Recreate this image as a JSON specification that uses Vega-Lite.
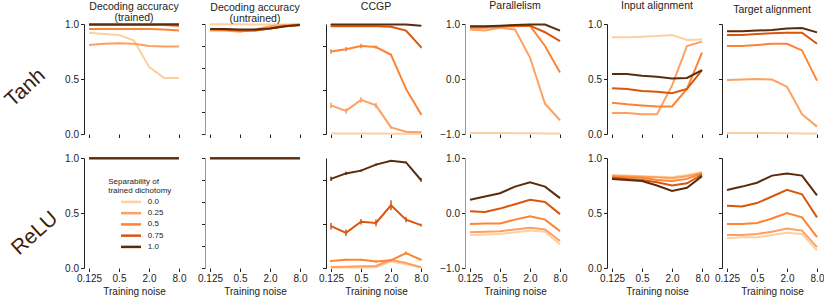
{
"$schema": "https://vega.github.io/schema/vega-lite/v6.json",
"padding": {"left": 0, "top": 0, "right": 0, "bottom": 0},
"background": "white",
"config": {
 "font": "Liberation Sans",
 "view": {"stroke": null},
 "axis": {"grid": false, "domainColor": "#222", "domainWidth": 1, "tickColor": "#222", "tickSize": 3.5, "tickWidth": 1, "labelFontSize": 10, "labelColor": "#222", "titleFontSize": 10, "titleFontWeight": "normal", "titleColor": "#222", "labelPadding": 2, "labelFlush": false},
 "axisX": {"domain": false},
 "title": {"fontSize": 10.5, "fontWeight": "normal", "color": "#222", "lineHeight": 11, "frame": "group"},
 "legend": {"orient": "none", "legendX": 24.2, "legendY": 153.5, "padding": 0, "titleFontSize": 8, "titleFontWeight": "normal", "titleColor": "#222", "titleLineHeight": 9.4, "titleAnchor": "start", "titlePadding": 1, "labelFontSize": 8, "labelColor": "#222", "symbolType": "M1.51,0H5.96", "symbolStrokeWidth": 2.5, "symbolSize": 81, "labelOffset": 27.6, "rowPadding": 0.25}
},
"data": {"values": [
{"act":"Tanh","metric":"dtr","sep":"0.0","noise":0.125,"value":0.92},{"act":"Tanh","metric":"dtr","sep":"0.0","noise":0.25,"value":0.91},{"act":"Tanh","metric":"dtr","sep":"0.0","noise":0.5,"value":0.90},{"act":"Tanh","metric":"dtr","sep":"0.0","noise":1,"value":0.85},{"act":"Tanh","metric":"dtr","sep":"0.0","noise":2,"value":0.61},{"act":"Tanh","metric":"dtr","sep":"0.0","noise":4,"value":0.51},{"act":"Tanh","metric":"dtr","sep":"0.0","noise":8,"value":0.51},
{"act":"Tanh","metric":"dtr","sep":"0.25","noise":0.125,"value":0.81},{"act":"Tanh","metric":"dtr","sep":"0.25","noise":0.25,"value":0.82},{"act":"Tanh","metric":"dtr","sep":"0.25","noise":0.5,"value":0.825},{"act":"Tanh","metric":"dtr","sep":"0.25","noise":1,"value":0.82},{"act":"Tanh","metric":"dtr","sep":"0.25","noise":2,"value":0.80},{"act":"Tanh","metric":"dtr","sep":"0.25","noise":4,"value":0.795},{"act":"Tanh","metric":"dtr","sep":"0.25","noise":8,"value":0.795},
{"act":"Tanh","metric":"dtr","sep":"0.5","noise":0.125,"value":0.955},{"act":"Tanh","metric":"dtr","sep":"0.5","noise":0.25,"value":0.955},{"act":"Tanh","metric":"dtr","sep":"0.5","noise":0.5,"value":0.955},{"act":"Tanh","metric":"dtr","sep":"0.5","noise":1,"value":0.955},{"act":"Tanh","metric":"dtr","sep":"0.5","noise":2,"value":0.955},{"act":"Tanh","metric":"dtr","sep":"0.5","noise":4,"value":0.95},{"act":"Tanh","metric":"dtr","sep":"0.5","noise":8,"value":0.94},
{"act":"Tanh","metric":"dtr","sep":"0.75","noise":0.125,"value":0.99},{"act":"Tanh","metric":"dtr","sep":"0.75","noise":0.25,"value":0.99},{"act":"Tanh","metric":"dtr","sep":"0.75","noise":0.5,"value":0.99},{"act":"Tanh","metric":"dtr","sep":"0.75","noise":1,"value":0.99},{"act":"Tanh","metric":"dtr","sep":"0.75","noise":2,"value":0.99},{"act":"Tanh","metric":"dtr","sep":"0.75","noise":4,"value":0.99},{"act":"Tanh","metric":"dtr","sep":"0.75","noise":8,"value":0.985},
{"act":"Tanh","metric":"dtr","sep":"1.0","noise":0.125,"value":0.997},{"act":"Tanh","metric":"dtr","sep":"1.0","noise":0.25,"value":0.997},{"act":"Tanh","metric":"dtr","sep":"1.0","noise":0.5,"value":0.997},{"act":"Tanh","metric":"dtr","sep":"1.0","noise":1,"value":0.997},{"act":"Tanh","metric":"dtr","sep":"1.0","noise":2,"value":0.997},{"act":"Tanh","metric":"dtr","sep":"1.0","noise":4,"value":0.997},{"act":"Tanh","metric":"dtr","sep":"1.0","noise":8,"value":0.997},

{"act":"Tanh","metric":"dun","sep":"0.0","noise":0.125,"value":0.997},{"act":"Tanh","metric":"dun","sep":"0.0","noise":0.25,"value":0.997},{"act":"Tanh","metric":"dun","sep":"0.0","noise":0.5,"value":0.997},{"act":"Tanh","metric":"dun","sep":"0.0","noise":1,"value":0.995},{"act":"Tanh","metric":"dun","sep":"0.0","noise":2,"value":0.995},{"act":"Tanh","metric":"dun","sep":"0.0","noise":4,"value":0.995},{"act":"Tanh","metric":"dun","sep":"0.0","noise":8,"value":0.995},
{"act":"Tanh","metric":"dun","sep":"0.25","noise":0.125,"value":0.94},{"act":"Tanh","metric":"dun","sep":"0.25","noise":0.25,"value":0.94},{"act":"Tanh","metric":"dun","sep":"0.25","noise":0.5,"value":0.93},{"act":"Tanh","metric":"dun","sep":"0.25","noise":1,"value":0.95},{"act":"Tanh","metric":"dun","sep":"0.25","noise":2,"value":0.98},{"act":"Tanh","metric":"dun","sep":"0.25","noise":4,"value":0.99},{"act":"Tanh","metric":"dun","sep":"0.25","noise":8,"value":0.995},
{"act":"Tanh","metric":"dun","sep":"0.5","noise":0.125,"value":0.95},{"act":"Tanh","metric":"dun","sep":"0.5","noise":0.25,"value":0.945},{"act":"Tanh","metric":"dun","sep":"0.5","noise":0.5,"value":0.94},{"act":"Tanh","metric":"dun","sep":"0.5","noise":1,"value":0.94},{"act":"Tanh","metric":"dun","sep":"0.5","noise":2,"value":0.96},{"act":"Tanh","metric":"dun","sep":"0.5","noise":4,"value":0.98},{"act":"Tanh","metric":"dun","sep":"0.5","noise":8,"value":0.995},
{"act":"Tanh","metric":"dun","sep":"0.75","noise":0.125,"value":0.955},{"act":"Tanh","metric":"dun","sep":"0.75","noise":0.25,"value":0.95},{"act":"Tanh","metric":"dun","sep":"0.75","noise":0.5,"value":0.94},{"act":"Tanh","metric":"dun","sep":"0.75","noise":1,"value":0.94},{"act":"Tanh","metric":"dun","sep":"0.75","noise":2,"value":0.96},{"act":"Tanh","metric":"dun","sep":"0.75","noise":4,"value":0.98},{"act":"Tanh","metric":"dun","sep":"0.75","noise":8,"value":0.99},
{"act":"Tanh","metric":"dun","sep":"1.0","noise":0.125,"value":0.955},{"act":"Tanh","metric":"dun","sep":"1.0","noise":0.25,"value":0.955},{"act":"Tanh","metric":"dun","sep":"1.0","noise":0.5,"value":0.95},{"act":"Tanh","metric":"dun","sep":"1.0","noise":1,"value":0.95},{"act":"Tanh","metric":"dun","sep":"1.0","noise":2,"value":0.96},{"act":"Tanh","metric":"dun","sep":"1.0","noise":4,"value":0.98},{"act":"Tanh","metric":"dun","sep":"1.0","noise":8,"value":0.99},

{"act":"Tanh","metric":"ccgp","sep":"0.0","noise":0.125,"value":0.005,"lo":0.003,"hi":0.007},{"act":"Tanh","metric":"ccgp","sep":"0.0","noise":0.25,"value":0.005,"lo":0.003,"hi":0.007},{"act":"Tanh","metric":"ccgp","sep":"0.0","noise":0.5,"value":0.005,"lo":0.003,"hi":0.007},{"act":"Tanh","metric":"ccgp","sep":"0.0","noise":1,"value":0.005,"lo":0.003,"hi":0.007},{"act":"Tanh","metric":"ccgp","sep":"0.0","noise":2,"value":0.003,"lo":0.001,"hi":0.005},{"act":"Tanh","metric":"ccgp","sep":"0.0","noise":4,"value":0.002,"lo":0.001,"hi":0.004},{"act":"Tanh","metric":"ccgp","sep":"0.0","noise":8,"value":0.002,"lo":0.001,"hi":0.004},
{"act":"Tanh","metric":"ccgp","sep":"0.25","noise":0.125,"value":0.26,"lo":0.235,"hi":0.285},{"act":"Tanh","metric":"ccgp","sep":"0.25","noise":0.25,"value":0.21,"lo":0.185,"hi":0.235},{"act":"Tanh","metric":"ccgp","sep":"0.25","noise":0.5,"value":0.31,"lo":0.285,"hi":0.335},{"act":"Tanh","metric":"ccgp","sep":"0.25","noise":1,"value":0.26,"lo":0.235,"hi":0.285},{"act":"Tanh","metric":"ccgp","sep":"0.25","noise":2,"value":0.06,"lo":0.05,"hi":0.07},{"act":"Tanh","metric":"ccgp","sep":"0.25","noise":4,"value":0.02,"lo":0.015,"hi":0.025},{"act":"Tanh","metric":"ccgp","sep":"0.25","noise":8,"value":0.015,"lo":0.01,"hi":0.02},
{"act":"Tanh","metric":"ccgp","sep":"0.5","noise":0.125,"value":0.75,"lo":0.73,"hi":0.77},{"act":"Tanh","metric":"ccgp","sep":"0.5","noise":0.25,"value":0.77,"lo":0.75,"hi":0.79},{"act":"Tanh","metric":"ccgp","sep":"0.5","noise":0.5,"value":0.80,"lo":0.78,"hi":0.82},{"act":"Tanh","metric":"ccgp","sep":"0.5","noise":1,"value":0.79,"lo":0.775,"hi":0.805},{"act":"Tanh","metric":"ccgp","sep":"0.5","noise":2,"value":0.72,"lo":0.71,"hi":0.73},{"act":"Tanh","metric":"ccgp","sep":"0.5","noise":4,"value":0.41,"lo":0.4,"hi":0.42},{"act":"Tanh","metric":"ccgp","sep":"0.5","noise":8,"value":0.18,"lo":0.17,"hi":0.19},
{"act":"Tanh","metric":"ccgp","sep":"0.75","noise":0.125,"value":0.98,"lo":0.975,"hi":0.985},{"act":"Tanh","metric":"ccgp","sep":"0.75","noise":0.25,"value":0.98,"lo":0.975,"hi":0.985},{"act":"Tanh","metric":"ccgp","sep":"0.75","noise":0.5,"value":0.98,"lo":0.975,"hi":0.985},{"act":"Tanh","metric":"ccgp","sep":"0.75","noise":1,"value":0.98,"lo":0.975,"hi":0.985},{"act":"Tanh","metric":"ccgp","sep":"0.75","noise":2,"value":0.975,"lo":0.97,"hi":0.98},{"act":"Tanh","metric":"ccgp","sep":"0.75","noise":4,"value":0.94,"lo":0.935,"hi":0.945},{"act":"Tanh","metric":"ccgp","sep":"0.75","noise":8,"value":0.79,"lo":0.78,"hi":0.8},
{"act":"Tanh","metric":"ccgp","sep":"1.0","noise":0.125,"value":0.995,"lo":0.992,"hi":0.998},{"act":"Tanh","metric":"ccgp","sep":"1.0","noise":0.25,"value":0.995,"lo":0.992,"hi":0.998},{"act":"Tanh","metric":"ccgp","sep":"1.0","noise":0.5,"value":0.995,"lo":0.992,"hi":0.998},{"act":"Tanh","metric":"ccgp","sep":"1.0","noise":1,"value":0.995,"lo":0.992,"hi":0.998},{"act":"Tanh","metric":"ccgp","sep":"1.0","noise":2,"value":0.995,"lo":0.992,"hi":0.998},{"act":"Tanh","metric":"ccgp","sep":"1.0","noise":4,"value":0.995,"lo":0.992,"hi":0.998},{"act":"Tanh","metric":"ccgp","sep":"1.0","noise":8,"value":0.985,"lo":0.982,"hi":0.988},

{"act":"Tanh","metric":"par","sep":"0.0","noise":0.125,"value":-0.98},{"act":"Tanh","metric":"par","sep":"0.0","noise":0.25,"value":-0.98},{"act":"Tanh","metric":"par","sep":"0.0","noise":0.5,"value":-0.98},{"act":"Tanh","metric":"par","sep":"0.0","noise":1,"value":-0.985},{"act":"Tanh","metric":"par","sep":"0.0","noise":2,"value":-0.985},{"act":"Tanh","metric":"par","sep":"0.0","noise":4,"value":-0.99},{"act":"Tanh","metric":"par","sep":"0.0","noise":8,"value":-0.99},
{"act":"Tanh","metric":"par","sep":"0.25","noise":0.125,"value":0.90},{"act":"Tanh","metric":"par","sep":"0.25","noise":0.25,"value":0.88},{"act":"Tanh","metric":"par","sep":"0.25","noise":0.5,"value":0.93},{"act":"Tanh","metric":"par","sep":"0.25","noise":1,"value":0.90},{"act":"Tanh","metric":"par","sep":"0.25","noise":2,"value":0.39},{"act":"Tanh","metric":"par","sep":"0.25","noise":4,"value":-0.45},{"act":"Tanh","metric":"par","sep":"0.25","noise":8,"value":-0.75},
{"act":"Tanh","metric":"par","sep":"0.5","noise":0.125,"value":0.93},{"act":"Tanh","metric":"par","sep":"0.5","noise":0.25,"value":0.93},{"act":"Tanh","metric":"par","sep":"0.5","noise":0.5,"value":0.95},{"act":"Tanh","metric":"par","sep":"0.5","noise":1,"value":0.96},{"act":"Tanh","metric":"par","sep":"0.5","noise":2,"value":0.97},{"act":"Tanh","metric":"par","sep":"0.5","noise":4,"value":0.60},{"act":"Tanh","metric":"par","sep":"0.5","noise":8,"value":0.12},
{"act":"Tanh","metric":"par","sep":"0.75","noise":0.125,"value":0.95},{"act":"Tanh","metric":"par","sep":"0.75","noise":0.25,"value":0.95},{"act":"Tanh","metric":"par","sep":"0.75","noise":0.5,"value":0.96},{"act":"Tanh","metric":"par","sep":"0.75","noise":1,"value":0.97},{"act":"Tanh","metric":"par","sep":"0.75","noise":2,"value":0.97},{"act":"Tanh","metric":"par","sep":"0.75","noise":4,"value":0.85},{"act":"Tanh","metric":"par","sep":"0.75","noise":8,"value":0.69},
{"act":"Tanh","metric":"par","sep":"1.0","noise":0.125,"value":0.96},{"act":"Tanh","metric":"par","sep":"1.0","noise":0.25,"value":0.96},{"act":"Tanh","metric":"par","sep":"1.0","noise":0.5,"value":0.97},{"act":"Tanh","metric":"par","sep":"1.0","noise":1,"value":0.98},{"act":"Tanh","metric":"par","sep":"1.0","noise":2,"value":0.99},{"act":"Tanh","metric":"par","sep":"1.0","noise":4,"value":0.99},{"act":"Tanh","metric":"par","sep":"1.0","noise":8,"value":0.88},

{"act":"Tanh","metric":"inp","sep":"0.0","noise":0.125,"value":0.88},{"act":"Tanh","metric":"inp","sep":"0.0","noise":0.25,"value":0.88},{"act":"Tanh","metric":"inp","sep":"0.0","noise":0.5,"value":0.885},{"act":"Tanh","metric":"inp","sep":"0.0","noise":1,"value":0.89},{"act":"Tanh","metric":"inp","sep":"0.0","noise":2,"value":0.90},{"act":"Tanh","metric":"inp","sep":"0.0","noise":4,"value":0.855},{"act":"Tanh","metric":"inp","sep":"0.0","noise":8,"value":0.86},
{"act":"Tanh","metric":"inp","sep":"0.25","noise":0.125,"value":0.19},{"act":"Tanh","metric":"inp","sep":"0.25","noise":0.25,"value":0.19},{"act":"Tanh","metric":"inp","sep":"0.25","noise":0.5,"value":0.18},{"act":"Tanh","metric":"inp","sep":"0.25","noise":1,"value":0.18},{"act":"Tanh","metric":"inp","sep":"0.25","noise":2,"value":0.44},{"act":"Tanh","metric":"inp","sep":"0.25","noise":4,"value":0.80},{"act":"Tanh","metric":"inp","sep":"0.25","noise":8,"value":0.84},
{"act":"Tanh","metric":"inp","sep":"0.5","noise":0.125,"value":0.285},{"act":"Tanh","metric":"inp","sep":"0.5","noise":0.25,"value":0.27},{"act":"Tanh","metric":"inp","sep":"0.5","noise":0.5,"value":0.26},{"act":"Tanh","metric":"inp","sep":"0.5","noise":1,"value":0.25},{"act":"Tanh","metric":"inp","sep":"0.5","noise":2,"value":0.25},{"act":"Tanh","metric":"inp","sep":"0.5","noise":4,"value":0.41},{"act":"Tanh","metric":"inp","sep":"0.5","noise":8,"value":0.74},
{"act":"Tanh","metric":"inp","sep":"0.75","noise":0.125,"value":0.415},{"act":"Tanh","metric":"inp","sep":"0.75","noise":0.25,"value":0.41},{"act":"Tanh","metric":"inp","sep":"0.75","noise":0.5,"value":0.39},{"act":"Tanh","metric":"inp","sep":"0.75","noise":1,"value":0.385},{"act":"Tanh","metric":"inp","sep":"0.75","noise":2,"value":0.37},{"act":"Tanh","metric":"inp","sep":"0.75","noise":4,"value":0.41},{"act":"Tanh","metric":"inp","sep":"0.75","noise":8,"value":0.58},
{"act":"Tanh","metric":"inp","sep":"1.0","noise":0.125,"value":0.545},{"act":"Tanh","metric":"inp","sep":"1.0","noise":0.25,"value":0.545},{"act":"Tanh","metric":"inp","sep":"1.0","noise":0.5,"value":0.53},{"act":"Tanh","metric":"inp","sep":"1.0","noise":1,"value":0.52},{"act":"Tanh","metric":"inp","sep":"1.0","noise":2,"value":0.505},{"act":"Tanh","metric":"inp","sep":"1.0","noise":4,"value":0.51},{"act":"Tanh","metric":"inp","sep":"1.0","noise":8,"value":0.58},

{"act":"Tanh","metric":"tgt","sep":"0.0","noise":0.125,"value":0.01},{"act":"Tanh","metric":"tgt","sep":"0.0","noise":0.25,"value":0.01},{"act":"Tanh","metric":"tgt","sep":"0.0","noise":0.5,"value":0.01},{"act":"Tanh","metric":"tgt","sep":"0.0","noise":1,"value":0.008},{"act":"Tanh","metric":"tgt","sep":"0.0","noise":2,"value":0.006},{"act":"Tanh","metric":"tgt","sep":"0.0","noise":4,"value":0.005},{"act":"Tanh","metric":"tgt","sep":"0.0","noise":8,"value":0.005},
{"act":"Tanh","metric":"tgt","sep":"0.25","noise":0.125,"value":0.49},{"act":"Tanh","metric":"tgt","sep":"0.25","noise":0.25,"value":0.495},{"act":"Tanh","metric":"tgt","sep":"0.25","noise":0.5,"value":0.50},{"act":"Tanh","metric":"tgt","sep":"0.25","noise":1,"value":0.495},{"act":"Tanh","metric":"tgt","sep":"0.25","noise":2,"value":0.43},{"act":"Tanh","metric":"tgt","sep":"0.25","noise":4,"value":0.18},{"act":"Tanh","metric":"tgt","sep":"0.25","noise":8,"value":0.067},
{"act":"Tanh","metric":"tgt","sep":"0.5","noise":0.125,"value":0.80},{"act":"Tanh","metric":"tgt","sep":"0.5","noise":0.25,"value":0.80},{"act":"Tanh","metric":"tgt","sep":"0.5","noise":0.5,"value":0.81},{"act":"Tanh","metric":"tgt","sep":"0.5","noise":1,"value":0.82},{"act":"Tanh","metric":"tgt","sep":"0.5","noise":2,"value":0.82},{"act":"Tanh","metric":"tgt","sep":"0.5","noise":4,"value":0.76},{"act":"Tanh","metric":"tgt","sep":"0.5","noise":8,"value":0.485},
{"act":"Tanh","metric":"tgt","sep":"0.75","noise":0.125,"value":0.90},{"act":"Tanh","metric":"tgt","sep":"0.75","noise":0.25,"value":0.90},{"act":"Tanh","metric":"tgt","sep":"0.75","noise":0.5,"value":0.91},{"act":"Tanh","metric":"tgt","sep":"0.75","noise":1,"value":0.915},{"act":"Tanh","metric":"tgt","sep":"0.75","noise":2,"value":0.92},{"act":"Tanh","metric":"tgt","sep":"0.75","noise":4,"value":0.92},{"act":"Tanh","metric":"tgt","sep":"0.75","noise":8,"value":0.82},
{"act":"Tanh","metric":"tgt","sep":"1.0","noise":0.125,"value":0.933},{"act":"Tanh","metric":"tgt","sep":"1.0","noise":0.25,"value":0.933},{"act":"Tanh","metric":"tgt","sep":"1.0","noise":0.5,"value":0.94},{"act":"Tanh","metric":"tgt","sep":"1.0","noise":1,"value":0.945},{"act":"Tanh","metric":"tgt","sep":"1.0","noise":2,"value":0.96},{"act":"Tanh","metric":"tgt","sep":"1.0","noise":4,"value":0.964},{"act":"Tanh","metric":"tgt","sep":"1.0","noise":8,"value":0.924},

{"act":"ReLU","metric":"dtr","sep":"0.0","noise":0.125,"value":0.998},{"act":"ReLU","metric":"dtr","sep":"0.0","noise":0.25,"value":0.998},{"act":"ReLU","metric":"dtr","sep":"0.0","noise":0.5,"value":0.998},{"act":"ReLU","metric":"dtr","sep":"0.0","noise":1,"value":0.998},{"act":"ReLU","metric":"dtr","sep":"0.0","noise":2,"value":0.998},{"act":"ReLU","metric":"dtr","sep":"0.0","noise":4,"value":0.998},{"act":"ReLU","metric":"dtr","sep":"0.0","noise":8,"value":0.998},
{"act":"ReLU","metric":"dtr","sep":"0.25","noise":0.125,"value":0.998},{"act":"ReLU","metric":"dtr","sep":"0.25","noise":0.25,"value":0.998},{"act":"ReLU","metric":"dtr","sep":"0.25","noise":0.5,"value":0.998},{"act":"ReLU","metric":"dtr","sep":"0.25","noise":1,"value":0.998},{"act":"ReLU","metric":"dtr","sep":"0.25","noise":2,"value":0.998},{"act":"ReLU","metric":"dtr","sep":"0.25","noise":4,"value":0.998},{"act":"ReLU","metric":"dtr","sep":"0.25","noise":8,"value":0.998},
{"act":"ReLU","metric":"dtr","sep":"0.5","noise":0.125,"value":0.998},{"act":"ReLU","metric":"dtr","sep":"0.5","noise":0.25,"value":0.998},{"act":"ReLU","metric":"dtr","sep":"0.5","noise":0.5,"value":0.998},{"act":"ReLU","metric":"dtr","sep":"0.5","noise":1,"value":0.998},{"act":"ReLU","metric":"dtr","sep":"0.5","noise":2,"value":0.998},{"act":"ReLU","metric":"dtr","sep":"0.5","noise":4,"value":0.998},{"act":"ReLU","metric":"dtr","sep":"0.5","noise":8,"value":0.998},
{"act":"ReLU","metric":"dtr","sep":"0.75","noise":0.125,"value":0.998},{"act":"ReLU","metric":"dtr","sep":"0.75","noise":0.25,"value":0.998},{"act":"ReLU","metric":"dtr","sep":"0.75","noise":0.5,"value":0.998},{"act":"ReLU","metric":"dtr","sep":"0.75","noise":1,"value":0.998},{"act":"ReLU","metric":"dtr","sep":"0.75","noise":2,"value":0.998},{"act":"ReLU","metric":"dtr","sep":"0.75","noise":4,"value":0.998},{"act":"ReLU","metric":"dtr","sep":"0.75","noise":8,"value":0.998},
{"act":"ReLU","metric":"dtr","sep":"1.0","noise":0.125,"value":0.998},{"act":"ReLU","metric":"dtr","sep":"1.0","noise":0.25,"value":0.998},{"act":"ReLU","metric":"dtr","sep":"1.0","noise":0.5,"value":0.998},{"act":"ReLU","metric":"dtr","sep":"1.0","noise":1,"value":0.998},{"act":"ReLU","metric":"dtr","sep":"1.0","noise":2,"value":0.998},{"act":"ReLU","metric":"dtr","sep":"1.0","noise":4,"value":0.998},{"act":"ReLU","metric":"dtr","sep":"1.0","noise":8,"value":0.998},

{"act":"ReLU","metric":"dun","sep":"0.0","noise":0.125,"value":0.998},{"act":"ReLU","metric":"dun","sep":"0.0","noise":0.25,"value":0.998},{"act":"ReLU","metric":"dun","sep":"0.0","noise":0.5,"value":0.998},{"act":"ReLU","metric":"dun","sep":"0.0","noise":1,"value":0.998},{"act":"ReLU","metric":"dun","sep":"0.0","noise":2,"value":0.998},{"act":"ReLU","metric":"dun","sep":"0.0","noise":4,"value":0.998},{"act":"ReLU","metric":"dun","sep":"0.0","noise":8,"value":0.998},
{"act":"ReLU","metric":"dun","sep":"0.25","noise":0.125,"value":0.998},{"act":"ReLU","metric":"dun","sep":"0.25","noise":0.25,"value":0.998},{"act":"ReLU","metric":"dun","sep":"0.25","noise":0.5,"value":0.998},{"act":"ReLU","metric":"dun","sep":"0.25","noise":1,"value":0.998},{"act":"ReLU","metric":"dun","sep":"0.25","noise":2,"value":0.998},{"act":"ReLU","metric":"dun","sep":"0.25","noise":4,"value":0.998},{"act":"ReLU","metric":"dun","sep":"0.25","noise":8,"value":0.998},
{"act":"ReLU","metric":"dun","sep":"0.5","noise":0.125,"value":0.998},{"act":"ReLU","metric":"dun","sep":"0.5","noise":0.25,"value":0.998},{"act":"ReLU","metric":"dun","sep":"0.5","noise":0.5,"value":0.998},{"act":"ReLU","metric":"dun","sep":"0.5","noise":1,"value":0.998},{"act":"ReLU","metric":"dun","sep":"0.5","noise":2,"value":0.998},{"act":"ReLU","metric":"dun","sep":"0.5","noise":4,"value":0.998},{"act":"ReLU","metric":"dun","sep":"0.5","noise":8,"value":0.998},
{"act":"ReLU","metric":"dun","sep":"0.75","noise":0.125,"value":0.998},{"act":"ReLU","metric":"dun","sep":"0.75","noise":0.25,"value":0.998},{"act":"ReLU","metric":"dun","sep":"0.75","noise":0.5,"value":0.998},{"act":"ReLU","metric":"dun","sep":"0.75","noise":1,"value":0.998},{"act":"ReLU","metric":"dun","sep":"0.75","noise":2,"value":0.998},{"act":"ReLU","metric":"dun","sep":"0.75","noise":4,"value":0.998},{"act":"ReLU","metric":"dun","sep":"0.75","noise":8,"value":0.998},
{"act":"ReLU","metric":"dun","sep":"1.0","noise":0.125,"value":0.998},{"act":"ReLU","metric":"dun","sep":"1.0","noise":0.25,"value":0.998},{"act":"ReLU","metric":"dun","sep":"1.0","noise":0.5,"value":0.998},{"act":"ReLU","metric":"dun","sep":"1.0","noise":1,"value":0.998},{"act":"ReLU","metric":"dun","sep":"1.0","noise":2,"value":0.998},{"act":"ReLU","metric":"dun","sep":"1.0","noise":4,"value":0.998},{"act":"ReLU","metric":"dun","sep":"1.0","noise":8,"value":0.998},

{"act":"ReLU","metric":"ccgp","sep":"0.0","noise":0.125,"value":0.003,"lo":0.001,"hi":0.005},{"act":"ReLU","metric":"ccgp","sep":"0.0","noise":0.25,"value":0.004,"lo":0.002,"hi":0.006},{"act":"ReLU","metric":"ccgp","sep":"0.0","noise":0.5,"value":0.005,"lo":0.003,"hi":0.007},{"act":"ReLU","metric":"ccgp","sep":"0.0","noise":1,"value":0.006,"lo":0.004,"hi":0.008},{"act":"ReLU","metric":"ccgp","sep":"0.0","noise":2,"value":0.06,"lo":0.055,"hi":0.065},{"act":"ReLU","metric":"ccgp","sep":"0.0","noise":4,"value":0.035,"lo":0.03,"hi":0.04},{"act":"ReLU","metric":"ccgp","sep":"0.0","noise":8,"value":0.004,"lo":0.002,"hi":0.006},
{"act":"ReLU","metric":"ccgp","sep":"0.25","noise":0.125,"value":0.01,"lo":0.006,"hi":0.014},{"act":"ReLU","metric":"ccgp","sep":"0.25","noise":0.25,"value":0.012,"lo":0.008,"hi":0.016},{"act":"ReLU","metric":"ccgp","sep":"0.25","noise":0.5,"value":0.015,"lo":0.011,"hi":0.019},{"act":"ReLU","metric":"ccgp","sep":"0.25","noise":1,"value":0.018,"lo":0.014,"hi":0.022},{"act":"ReLU","metric":"ccgp","sep":"0.25","noise":2,"value":0.075,"lo":0.068,"hi":0.082},{"act":"ReLU","metric":"ccgp","sep":"0.25","noise":4,"value":0.045,"lo":0.04,"hi":0.05},{"act":"ReLU","metric":"ccgp","sep":"0.25","noise":8,"value":0.008,"lo":0.005,"hi":0.011},
{"act":"ReLU","metric":"ccgp","sep":"0.5","noise":0.125,"value":0.063,"lo":0.053,"hi":0.073},{"act":"ReLU","metric":"ccgp","sep":"0.5","noise":0.25,"value":0.075,"lo":0.065,"hi":0.085},{"act":"ReLU","metric":"ccgp","sep":"0.5","noise":0.5,"value":0.075,"lo":0.065,"hi":0.085},{"act":"ReLU","metric":"ccgp","sep":"0.5","noise":1,"value":0.06,"lo":0.05,"hi":0.07},{"act":"ReLU","metric":"ccgp","sep":"0.5","noise":2,"value":0.07,"lo":0.06,"hi":0.08},{"act":"ReLU","metric":"ccgp","sep":"0.5","noise":4,"value":0.135,"lo":0.12,"hi":0.15},{"act":"ReLU","metric":"ccgp","sep":"0.5","noise":8,"value":0.075,"lo":0.068,"hi":0.082},
{"act":"ReLU","metric":"ccgp","sep":"0.75","noise":0.125,"value":0.38,"lo":0.35,"hi":0.41},{"act":"ReLU","metric":"ccgp","sep":"0.75","noise":0.25,"value":0.32,"lo":0.29,"hi":0.35},{"act":"ReLU","metric":"ccgp","sep":"0.75","noise":0.5,"value":0.42,"lo":0.395,"hi":0.445},{"act":"ReLU","metric":"ccgp","sep":"0.75","noise":1,"value":0.41,"lo":0.38,"hi":0.44},{"act":"ReLU","metric":"ccgp","sep":"0.75","noise":2,"value":0.57,"lo":0.525,"hi":0.615},{"act":"ReLU","metric":"ccgp","sep":"0.75","noise":4,"value":0.44,"lo":0.415,"hi":0.465},{"act":"ReLU","metric":"ccgp","sep":"0.75","noise":8,"value":0.39,"lo":0.378,"hi":0.402},
{"act":"ReLU","metric":"ccgp","sep":"1.0","noise":0.125,"value":0.81,"lo":0.79,"hi":0.83},{"act":"ReLU","metric":"ccgp","sep":"1.0","noise":0.25,"value":0.86,"lo":0.845,"hi":0.875},{"act":"ReLU","metric":"ccgp","sep":"1.0","noise":0.5,"value":0.885,"lo":0.875,"hi":0.895},{"act":"ReLU","metric":"ccgp","sep":"1.0","noise":1,"value":0.94,"lo":0.93,"hi":0.95},{"act":"ReLU","metric":"ccgp","sep":"1.0","noise":2,"value":0.975,"lo":0.97,"hi":0.98},{"act":"ReLU","metric":"ccgp","sep":"1.0","noise":4,"value":0.96,"lo":0.955,"hi":0.965},{"act":"ReLU","metric":"ccgp","sep":"1.0","noise":8,"value":0.80,"lo":0.785,"hi":0.815},

{"act":"ReLU","metric":"par","sep":"0.0","noise":0.125,"value":-0.40},{"act":"ReLU","metric":"par","sep":"0.0","noise":0.25,"value":-0.39},{"act":"ReLU","metric":"par","sep":"0.0","noise":0.5,"value":-0.38},{"act":"ReLU","metric":"par","sep":"0.0","noise":1,"value":-0.35},{"act":"ReLU","metric":"par","sep":"0.0","noise":2,"value":-0.32},{"act":"ReLU","metric":"par","sep":"0.0","noise":4,"value":-0.34},{"act":"ReLU","metric":"par","sep":"0.0","noise":8,"value":-0.57},
{"act":"ReLU","metric":"par","sep":"0.25","noise":0.125,"value":-0.35},{"act":"ReLU","metric":"par","sep":"0.25","noise":0.25,"value":-0.34},{"act":"ReLU","metric":"par","sep":"0.25","noise":0.5,"value":-0.33},{"act":"ReLU","metric":"par","sep":"0.25","noise":1,"value":-0.30},{"act":"ReLU","metric":"par","sep":"0.25","noise":2,"value":-0.27},{"act":"ReLU","metric":"par","sep":"0.25","noise":4,"value":-0.30},{"act":"ReLU","metric":"par","sep":"0.25","noise":8,"value":-0.51},
{"act":"ReLU","metric":"par","sep":"0.5","noise":0.125,"value":-0.20},{"act":"ReLU","metric":"par","sep":"0.5","noise":0.25,"value":-0.19},{"act":"ReLU","metric":"par","sep":"0.5","noise":0.5,"value":-0.19},{"act":"ReLU","metric":"par","sep":"0.5","noise":1,"value":-0.12},{"act":"ReLU","metric":"par","sep":"0.5","noise":2,"value":-0.06},{"act":"ReLU","metric":"par","sep":"0.5","noise":4,"value":-0.12},{"act":"ReLU","metric":"par","sep":"0.5","noise":8,"value":-0.33},
{"act":"ReLU","metric":"par","sep":"0.75","noise":0.125,"value":0.03},{"act":"ReLU","metric":"par","sep":"0.75","noise":0.25,"value":0.02},{"act":"ReLU","metric":"par","sep":"0.75","noise":0.5,"value":0.08},{"act":"ReLU","metric":"par","sep":"0.75","noise":1,"value":0.16},{"act":"ReLU","metric":"par","sep":"0.75","noise":2,"value":0.24},{"act":"ReLU","metric":"par","sep":"0.75","noise":4,"value":0.20},{"act":"ReLU","metric":"par","sep":"0.75","noise":8,"value":-0.02},
{"act":"ReLU","metric":"par","sep":"1.0","noise":0.125,"value":0.24},{"act":"ReLU","metric":"par","sep":"1.0","noise":0.25,"value":0.30},{"act":"ReLU","metric":"par","sep":"1.0","noise":0.5,"value":0.36},{"act":"ReLU","metric":"par","sep":"1.0","noise":1,"value":0.48},{"act":"ReLU","metric":"par","sep":"1.0","noise":2,"value":0.56},{"act":"ReLU","metric":"par","sep":"1.0","noise":4,"value":0.48},{"act":"ReLU","metric":"par","sep":"1.0","noise":8,"value":0.27},

{"act":"ReLU","metric":"inp","sep":"0.0","noise":0.125,"value":0.84},{"act":"ReLU","metric":"inp","sep":"0.0","noise":0.25,"value":0.84},{"act":"ReLU","metric":"inp","sep":"0.0","noise":0.5,"value":0.835},{"act":"ReLU","metric":"inp","sep":"0.0","noise":1,"value":0.83},{"act":"ReLU","metric":"inp","sep":"0.0","noise":2,"value":0.825},{"act":"ReLU","metric":"inp","sep":"0.0","noise":4,"value":0.845},{"act":"ReLU","metric":"inp","sep":"0.0","noise":8,"value":0.87},
{"act":"ReLU","metric":"inp","sep":"0.25","noise":0.125,"value":0.84},{"act":"ReLU","metric":"inp","sep":"0.25","noise":0.25,"value":0.835},{"act":"ReLU","metric":"inp","sep":"0.25","noise":0.5,"value":0.83},{"act":"ReLU","metric":"inp","sep":"0.25","noise":1,"value":0.825},{"act":"ReLU","metric":"inp","sep":"0.25","noise":2,"value":0.815},{"act":"ReLU","metric":"inp","sep":"0.25","noise":4,"value":0.835},{"act":"ReLU","metric":"inp","sep":"0.25","noise":8,"value":0.865},
{"act":"ReLU","metric":"inp","sep":"0.5","noise":0.125,"value":0.83},{"act":"ReLU","metric":"inp","sep":"0.5","noise":0.25,"value":0.825},{"act":"ReLU","metric":"inp","sep":"0.5","noise":0.5,"value":0.82},{"act":"ReLU","metric":"inp","sep":"0.5","noise":1,"value":0.80},{"act":"ReLU","metric":"inp","sep":"0.5","noise":2,"value":0.79},{"act":"ReLU","metric":"inp","sep":"0.5","noise":4,"value":0.81},{"act":"ReLU","metric":"inp","sep":"0.5","noise":8,"value":0.86},
{"act":"ReLU","metric":"inp","sep":"0.75","noise":0.125,"value":0.82},{"act":"ReLU","metric":"inp","sep":"0.75","noise":0.25,"value":0.81},{"act":"ReLU","metric":"inp","sep":"0.75","noise":0.5,"value":0.80},{"act":"ReLU","metric":"inp","sep":"0.75","noise":1,"value":0.78},{"act":"ReLU","metric":"inp","sep":"0.75","noise":2,"value":0.75},{"act":"ReLU","metric":"inp","sep":"0.75","noise":4,"value":0.77},{"act":"ReLU","metric":"inp","sep":"0.75","noise":8,"value":0.85},
{"act":"ReLU","metric":"inp","sep":"1.0","noise":0.125,"value":0.81},{"act":"ReLU","metric":"inp","sep":"1.0","noise":0.25,"value":0.80},{"act":"ReLU","metric":"inp","sep":"1.0","noise":0.5,"value":0.79},{"act":"ReLU","metric":"inp","sep":"1.0","noise":1,"value":0.75},{"act":"ReLU","metric":"inp","sep":"1.0","noise":2,"value":0.70},{"act":"ReLU","metric":"inp","sep":"1.0","noise":4,"value":0.73},{"act":"ReLU","metric":"inp","sep":"1.0","noise":8,"value":0.835},

{"act":"ReLU","metric":"tgt","sep":"0.0","noise":0.125,"value":0.27},{"act":"ReLU","metric":"tgt","sep":"0.0","noise":0.25,"value":0.28},{"act":"ReLU","metric":"tgt","sep":"0.0","noise":0.5,"value":0.28},{"act":"ReLU","metric":"tgt","sep":"0.0","noise":1,"value":0.30},{"act":"ReLU","metric":"tgt","sep":"0.0","noise":2,"value":0.32},{"act":"ReLU","metric":"tgt","sep":"0.0","noise":4,"value":0.31},{"act":"ReLU","metric":"tgt","sep":"0.0","noise":8,"value":0.16},
{"act":"ReLU","metric":"tgt","sep":"0.25","noise":0.125,"value":0.30},{"act":"ReLU","metric":"tgt","sep":"0.25","noise":0.25,"value":0.30},{"act":"ReLU","metric":"tgt","sep":"0.25","noise":0.5,"value":0.31},{"act":"ReLU","metric":"tgt","sep":"0.25","noise":1,"value":0.33},{"act":"ReLU","metric":"tgt","sep":"0.25","noise":2,"value":0.36},{"act":"ReLU","metric":"tgt","sep":"0.25","noise":4,"value":0.34},{"act":"ReLU","metric":"tgt","sep":"0.25","noise":8,"value":0.19},
{"act":"ReLU","metric":"tgt","sep":"0.5","noise":0.125,"value":0.40},{"act":"ReLU","metric":"tgt","sep":"0.5","noise":0.25,"value":0.40},{"act":"ReLU","metric":"tgt","sep":"0.5","noise":0.5,"value":0.41},{"act":"ReLU","metric":"tgt","sep":"0.5","noise":1,"value":0.45},{"act":"ReLU","metric":"tgt","sep":"0.5","noise":2,"value":0.50},{"act":"ReLU","metric":"tgt","sep":"0.5","noise":4,"value":0.46},{"act":"ReLU","metric":"tgt","sep":"0.5","noise":8,"value":0.28},
{"act":"ReLU","metric":"tgt","sep":"0.75","noise":0.125,"value":0.565},{"act":"ReLU","metric":"tgt","sep":"0.75","noise":0.25,"value":0.56},{"act":"ReLU","metric":"tgt","sep":"0.75","noise":0.5,"value":0.59},{"act":"ReLU","metric":"tgt","sep":"0.75","noise":1,"value":0.65},{"act":"ReLU","metric":"tgt","sep":"0.75","noise":2,"value":0.71},{"act":"ReLU","metric":"tgt","sep":"0.75","noise":4,"value":0.67},{"act":"ReLU","metric":"tgt","sep":"0.75","noise":8,"value":0.46},
{"act":"ReLU","metric":"tgt","sep":"1.0","noise":0.125,"value":0.71},{"act":"ReLU","metric":"tgt","sep":"1.0","noise":0.25,"value":0.74},{"act":"ReLU","metric":"tgt","sep":"1.0","noise":0.5,"value":0.775},{"act":"ReLU","metric":"tgt","sep":"1.0","noise":1,"value":0.84},{"act":"ReLU","metric":"tgt","sep":"1.0","noise":2,"value":0.86},{"act":"ReLU","metric":"tgt","sep":"1.0","noise":4,"value":0.84},{"act":"ReLU","metric":"tgt","sep":"1.0","noise":8,"value":0.66}
]},
"columns": 6,
"spacing": {"row": 24, "column": 0},
"bounds": "flush",
"align": "each",
"concat": [
 {"width": 121, "height": 110, "title": {"text": ["Decoding accuracy", "(trained)"], "offset": -4.4, "dx": -10.5},
  "transform": [{"filter": "datum.act == 'Tanh' && datum.metric == 'dtr'"}],
  "mark": {"type": "line", "strokeWidth": 2},
  "encoding": {
   "x": {"field": "noise", "type": "quantitative", "scale": {"type": "log", "base": 2, "domain": [0.0992, 26.6], "nice": false}, "axis": {"values": [0.125, 0.5, 2, 8], "labels": false, "title": null}},
   "y": {"field": "value", "type": "quantitative", "scale": {"domain": [0, 1], "nice": false}, "axis": {"values": [0, 0.5, 1], "format": ".1f", "title": "Tanh", "titleAngle": -42, "titleFontSize": 21, "titleColor": "#3d1e0b", "titleX": -59, "titleY": 63.5, "titleAlign": "center", "titleBaseline": "middle"}},
   "color": {"field": "sep", "type": "ordinal", "scale": {"domain": ["0.0", "0.25", "0.5", "0.75", "1.0"], "range": ["#fdd0a2", "#fda062", "#fd8432", "#d9560d", "#5a2c0e"]}, "legend": {"title": ["Separability of", "trained dichotomy"]}}
  }},
 {"width": 121, "height": 110, "title": {"text": ["Decoding accuracy", "(untrained)"], "offset": -4.4, "dx": -10.5},
  "transform": [{"filter": "datum.act == 'Tanh' && datum.metric == 'dun'"}],
  "mark": {"type": "line", "strokeWidth": 2},
  "encoding": {
   "x": {"field": "noise", "type": "quantitative", "scale": {"type": "log", "base": 2, "domain": [0.0992, 26.6], "nice": false}, "axis": {"values": [0.125, 0.5, 2, 8], "labels": false, "title": null}},
   "y": {"field": "value", "type": "quantitative", "scale": {"domain": [0, 1], "nice": false}, "axis": {"values": [0, 0.2, 0.4, 0.6, 0.8, 1], "labels": false, "title": null, "domainColor": "#999"}},
   "color": {"field": "sep", "type": "ordinal", "scale": {"domain": ["0.0", "0.25", "0.5", "0.75", "1.0"], "range": ["#fdd0a2", "#fda062", "#fd8432", "#d9560d", "#5a2c0e"]}, "legend": {"title": ["Separability of", "trained dichotomy"]}}
  }},
 {"width": 139, "height": 110, "title": {"text": "CCGP", "offset": 7.8, "dx": -19.5},
  "transform": [{"filter": "datum.act == 'Tanh' && datum.metric == 'ccgp'"}],
  "encoding": {
   "x": {"field": "noise", "type": "quantitative", "scale": {"type": "log", "base": 2, "domain": [0.0992, 61.1], "nice": false}, "axis": {"values": [0.125, 0.5, 2, 8], "labels": false, "title": null}},
   "color": {"field": "sep", "type": "ordinal", "scale": {"domain": ["0.0", "0.25", "0.5", "0.75", "1.0"], "range": ["#fdd0a2", "#fda062", "#fd8432", "#d9560d", "#5a2c0e"]}, "legend": {"title": ["Separability of", "trained dichotomy"]}}
  },
  "layer": [
   {"mark": {"type": "line", "strokeWidth": 2}, "encoding": {"y": {"field": "value", "type": "quantitative", "scale": {"domain": [0, 1], "nice": false}, "axis": {"values": [0, 0.2, 0.4, 0.6, 0.8, 1], "labels": false, "title": null}}}},
   {"mark": {"type": "rule", "strokeWidth": 1.5}, "encoding": {"y": {"field": "lo", "type": "quantitative"}, "y2": {"field": "hi"}}}
  ]},
 {"width": 142, "height": 110, "title": {"text": "Parallelism", "offset": 7.8, "dx": -21},
  "transform": [{"filter": "datum.act == 'Tanh' && datum.metric == 'par'"}],
  "mark": {"type": "line", "strokeWidth": 2},
  "encoding": {
   "x": {"field": "noise", "type": "quantitative", "scale": {"type": "log", "base": 2, "domain": [0.0992, 70.2], "nice": false}, "axis": {"values": [0.125, 0.5, 2, 8], "labels": false, "title": null}},
   "y": {"field": "value", "type": "quantitative", "scale": {"domain": [-1, 1], "nice": false}, "axis": {"values": [-1, 0, 1], "format": ".1f", "title": null, "domainColor": "#999"}},
   "color": {"field": "sep", "type": "ordinal", "scale": {"domain": ["0.0", "0.25", "0.5", "0.75", "1.0"], "range": ["#fdd0a2", "#fda062", "#fd8432", "#d9560d", "#5a2c0e"]}, "legend": {"title": ["Separability of", "trained dichotomy"]}}
  }},
 {"width": 115, "height": 110, "title": {"text": "Input alignment", "offset": 7.8, "dx": -7.5},
  "transform": [{"filter": "datum.act == 'Tanh' && datum.metric == 'inp'"}],
  "mark": {"type": "line", "strokeWidth": 2},
  "encoding": {
   "x": {"field": "noise", "type": "quantitative", "scale": {"type": "log", "base": 2, "domain": [0.0992, 20.16], "nice": false}, "axis": {"values": [0.125, 0.5, 2, 8], "labels": false, "title": null}},
   "y": {"field": "value", "type": "quantitative", "scale": {"domain": [0, 1], "nice": false}, "axis": {"values": [0, 0.5, 1], "format": ".1f", "title": null}},
   "color": {"field": "sep", "type": "ordinal", "scale": {"domain": ["0.0", "0.25", "0.5", "0.75", "1.0"], "range": ["#fdd0a2", "#fda062", "#fd8432", "#d9560d", "#5a2c0e"]}, "legend": {"title": ["Separability of", "trained dichotomy"]}}
  }},
 {"width": 100, "height": 110, "title": {"text": "Target alignment", "offset": 7.8, "dx": 0},
  "transform": [{"filter": "datum.act == 'Tanh' && datum.metric == 'tgt'"}],
  "mark": {"type": "line", "strokeWidth": 2},
  "encoding": {
   "x": {"field": "noise", "type": "quantitative", "scale": {"type": "log", "base": 2, "domain": [0.0992, 10.08], "nice": false}, "axis": {"values": [0.125, 0.5, 2, 8], "labels": false, "title": null}},
   "y": {"field": "value", "type": "quantitative", "scale": {"domain": [0, 1], "nice": false}, "axis": {"values": [0, 0.5, 1], "labels": false, "title": null}},
   "color": {"field": "sep", "type": "ordinal", "scale": {"domain": ["0.0", "0.25", "0.5", "0.75", "1.0"], "range": ["#fdd0a2", "#fda062", "#fd8432", "#d9560d", "#5a2c0e"]}, "legend": {"title": ["Separability of", "trained dichotomy"]}}
  }},
 {"width": 121, "height": 110,
  "transform": [{"filter": "datum.act == 'ReLU' && datum.metric == 'dtr'"}],
  "mark": {"type": "line", "strokeWidth": 2},
  "encoding": {
   "x": {"field": "noise", "type": "quantitative", "scale": {"type": "log", "base": 2, "domain": [0.0992, 26.6], "nice": false}, "axis": {"values": [0.125, 0.5, 2, 8], "labelExpr": "datum.value == 0.125 ? '0.125' : format(datum.value, '.1f')", "title": "Training noise", "titlePadding": 3, "titleAnchor": "start", "titleX": 50, "titleAlign": "center"}},
   "y": {"field": "value", "type": "quantitative", "scale": {"domain": [0, 1], "nice": false}, "axis": {"values": [0, 0.5, 1], "format": ".1f", "title": "ReLU", "titleAngle": -42, "titleFontSize": 21, "titleColor": "#3d1e0b", "titleX": -49.5, "titleY": 75, "titleAlign": "center", "titleBaseline": "middle"}},
   "color": {"field": "sep", "type": "ordinal", "scale": {"domain": ["0.0", "0.25", "0.5", "0.75", "1.0"], "range": ["#fdd0a2", "#fda062", "#fd8432", "#d9560d", "#5a2c0e"]}, "legend": {"title": ["Separability of", "trained dichotomy"]}}
  }},
 {"width": 121, "height": 110,
  "transform": [{"filter": "datum.act == 'ReLU' && datum.metric == 'dun'"}],
  "mark": {"type": "line", "strokeWidth": 2},
  "encoding": {
   "x": {"field": "noise", "type": "quantitative", "scale": {"type": "log", "base": 2, "domain": [0.0992, 26.6], "nice": false}, "axis": {"values": [0.125, 0.5, 2, 8], "labelExpr": "datum.value == 0.125 ? '0.125' : format(datum.value, '.1f')", "title": "Training noise", "titlePadding": 3, "titleAnchor": "start", "titleX": 50, "titleAlign": "center"}},
   "y": {"field": "value", "type": "quantitative", "scale": {"domain": [0, 1], "nice": false}, "axis": {"values": [0, 0.2, 0.4, 0.6, 0.8, 1], "labels": false, "title": null, "domainColor": "#999"}},
   "color": {"field": "sep", "type": "ordinal", "scale": {"domain": ["0.0", "0.25", "0.5", "0.75", "1.0"], "range": ["#fdd0a2", "#fda062", "#fd8432", "#d9560d", "#5a2c0e"]}, "legend": {"title": ["Separability of", "trained dichotomy"]}}
  }},
 {"width": 139, "height": 110,
  "transform": [{"filter": "datum.act == 'ReLU' && datum.metric == 'ccgp'"}],
  "encoding": {
   "x": {"field": "noise", "type": "quantitative", "scale": {"type": "log", "base": 2, "domain": [0.0992, 61.1], "nice": false}, "axis": {"values": [0.125, 0.5, 2, 8], "labelExpr": "datum.value == 0.125 ? '0.125' : format(datum.value, '.1f')", "title": "Training noise", "titlePadding": 3, "titleAnchor": "start", "titleX": 50, "titleAlign": "center"}},
   "color": {"field": "sep", "type": "ordinal", "scale": {"domain": ["0.0", "0.25", "0.5", "0.75", "1.0"], "range": ["#fdd0a2", "#fda062", "#fd8432", "#d9560d", "#5a2c0e"]}, "legend": {"title": ["Separability of", "trained dichotomy"]}}
  },
  "layer": [
   {"mark": {"type": "line", "strokeWidth": 2}, "encoding": {"y": {"field": "value", "type": "quantitative", "scale": {"domain": [0, 1], "nice": false}, "axis": {"values": [0, 0.2, 0.4, 0.6, 0.8, 1], "labels": false, "title": null}}}},
   {"mark": {"type": "rule", "strokeWidth": 1.5}, "encoding": {"y": {"field": "lo", "type": "quantitative"}, "y2": {"field": "hi"}}}
  ]},
 {"width": 142, "height": 110,
  "transform": [{"filter": "datum.act == 'ReLU' && datum.metric == 'par'"}],
  "mark": {"type": "line", "strokeWidth": 2},
  "encoding": {
   "x": {"field": "noise", "type": "quantitative", "scale": {"type": "log", "base": 2, "domain": [0.0992, 70.2], "nice": false}, "axis": {"values": [0.125, 0.5, 2, 8], "labelExpr": "datum.value == 0.125 ? '0.125' : format(datum.value, '.1f')", "title": "Training noise", "titlePadding": 3, "titleAnchor": "start", "titleX": 50, "titleAlign": "center"}},
   "y": {"field": "value", "type": "quantitative", "scale": {"domain": [-1, 1], "nice": false}, "axis": {"values": [-1, 0, 1], "format": ".1f", "title": null, "domainColor": "#999"}},
   "color": {"field": "sep", "type": "ordinal", "scale": {"domain": ["0.0", "0.25", "0.5", "0.75", "1.0"], "range": ["#fdd0a2", "#fda062", "#fd8432", "#d9560d", "#5a2c0e"]}, "legend": {"title": ["Separability of", "trained dichotomy"]}}
  }},
 {"width": 115, "height": 110,
  "transform": [{"filter": "datum.act == 'ReLU' && datum.metric == 'inp'"}],
  "mark": {"type": "line", "strokeWidth": 2},
  "encoding": {
   "x": {"field": "noise", "type": "quantitative", "scale": {"type": "log", "base": 2, "domain": [0.0992, 20.16], "nice": false}, "axis": {"values": [0.125, 0.5, 2, 8], "labelExpr": "datum.value == 0.125 ? '0.125' : format(datum.value, '.1f')", "title": "Training noise", "titlePadding": 3, "titleAnchor": "start", "titleX": 50, "titleAlign": "center"}},
   "y": {"field": "value", "type": "quantitative", "scale": {"domain": [0, 1], "nice": false}, "axis": {"values": [0, 0.5, 1], "format": ".1f", "title": null}},
   "color": {"field": "sep", "type": "ordinal", "scale": {"domain": ["0.0", "0.25", "0.5", "0.75", "1.0"], "range": ["#fdd0a2", "#fda062", "#fd8432", "#d9560d", "#5a2c0e"]}, "legend": {"title": ["Separability of", "trained dichotomy"]}}
  }},
 {"width": 100, "height": 110,
  "transform": [{"filter": "datum.act == 'ReLU' && datum.metric == 'tgt'"}],
  "mark": {"type": "line", "strokeWidth": 2},
  "encoding": {
   "x": {"field": "noise", "type": "quantitative", "scale": {"type": "log", "base": 2, "domain": [0.0992, 10.08], "nice": false}, "axis": {"values": [0.125, 0.5, 2, 8], "labelExpr": "datum.value == 0.125 ? '0.125' : format(datum.value, '.1f')", "title": "Training noise", "titlePadding": 3, "titleAnchor": "start", "titleX": 50, "titleAlign": "center"}},
   "y": {"field": "value", "type": "quantitative", "scale": {"domain": [0, 1], "nice": false}, "axis": {"values": [0, 0.5, 1], "labels": false, "title": null}},
   "color": {"field": "sep", "type": "ordinal", "scale": {"domain": ["0.0", "0.25", "0.5", "0.75", "1.0"], "range": ["#fdd0a2", "#fda062", "#fd8432", "#d9560d", "#5a2c0e"]}, "legend": {"title": ["Separability of", "trained dichotomy"]}}
  }}
]
}
